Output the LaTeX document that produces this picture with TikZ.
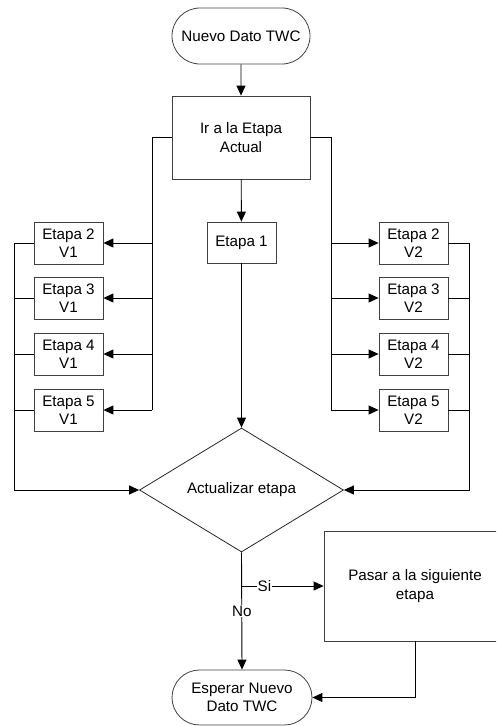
\documentclass[tikz,border=0pt]{standalone}
\usepackage{fontspec}
\setmainfont{Liberation Sans}
\usetikzlibrary{arrows.meta,shapes.geometric,shapes.misc}
\begin{document}
\begin{tikzpicture}[x=1pt,y=-1pt,
    font=\fontsize{15.2}{18.3}\selectfont,
    line/.style={line width=0.9pt},
    arr/.style={line,-{Triangle[length=10pt,width=9pt]}},
    term/.style={rounded rectangle,draw=black!75,line width=0.8pt,align=center,inner sep=0pt},
    box/.style={rectangle,draw=black!75,line width=0.8pt,align=center,inner sep=0pt},
    stage/.style={box,minimum width=69pt,minimum height=42pt},
    dec/.style={diamond,draw=black!85,line width=0.8pt,inner sep=0pt,minimum width=204pt,minimum height=124pt},
    lbl/.style={fill=white,inner sep=1pt}]
  \clip (0,0) rectangle (496,726);
  \node[term,minimum width=138pt,minimum height=56pt] (start) at (241,36) {Nuevo Dato TWC};
  \node[box,minimum width=138pt,minimum height=83pt] (ir) at (241,137.5) {Ir a la Etapa\\Actual};
  \node[stage,minimum height=41pt] (e1) at (241.5,242.5) {Etapa 1};
  \foreach \i/\y in {2/243,3/298,4/354,5/410} {
    \node[stage] (l\i) at (68.5,\y) {Etapa \i\\V1};
    \node[stage] (r\i) at (413.5,\y) {Etapa \i\\V2};
  }
  \node[dec] (upd) at (241.5,490) {Actualizar etapa};
  \node[box,minimum width=182pt,minimum height=110pt] (pasar) at (415,586) {Pasar a la siguiente\\etapa};
  \node[term,minimum width=140pt,minimum height=55pt] (fin) at (242,697.5) {Esperar Nuevo\\Dato TWC};
  \coordinate (bl) at (152,0);
  \coordinate (br) at (331,0);
  \coordinate (ol) at (14,0);
  \coordinate (or) at (469,0);
  \draw[arr] (start) -- (ir);
  \draw[arr] (ir) -- (e1);
  \draw[arr] (e1) -- (upd);
  \draw[line] (ir.west) -| (bl |- l5);
  \draw[line] (ir.east) -| (br |- r5);
  \foreach \i in {2,3,4,5} {
    \draw[arr] (bl |- l\i) -- (l\i.east);
    \draw[arr] (br |- r\i) -- (r\i.west);
  }
  \draw[arr] (l2.west) -| (ol |- upd.west) -- (upd.west);
  \draw[arr] (r2.east) -| (or |- upd.east) -- (upd.east);
  \foreach \i in {3,4,5} {
    \draw[line] (l\i.west) -- (ol |- l\i);
    \draw[line] (r\i.east) -- (or |- r\i);
  }
  \coordinate (si) at (upd.south |- pasar.west);
  \draw[arr] (upd.south) -- (fin.north) node[lbl,pos=0.5] {No};
  \draw[arr] (si) -- (pasar.west) node[lbl,pos=0.28] {Si};
  \draw[arr] (pasar.south) |- (fin.east);
\end{tikzpicture}
\end{document}
